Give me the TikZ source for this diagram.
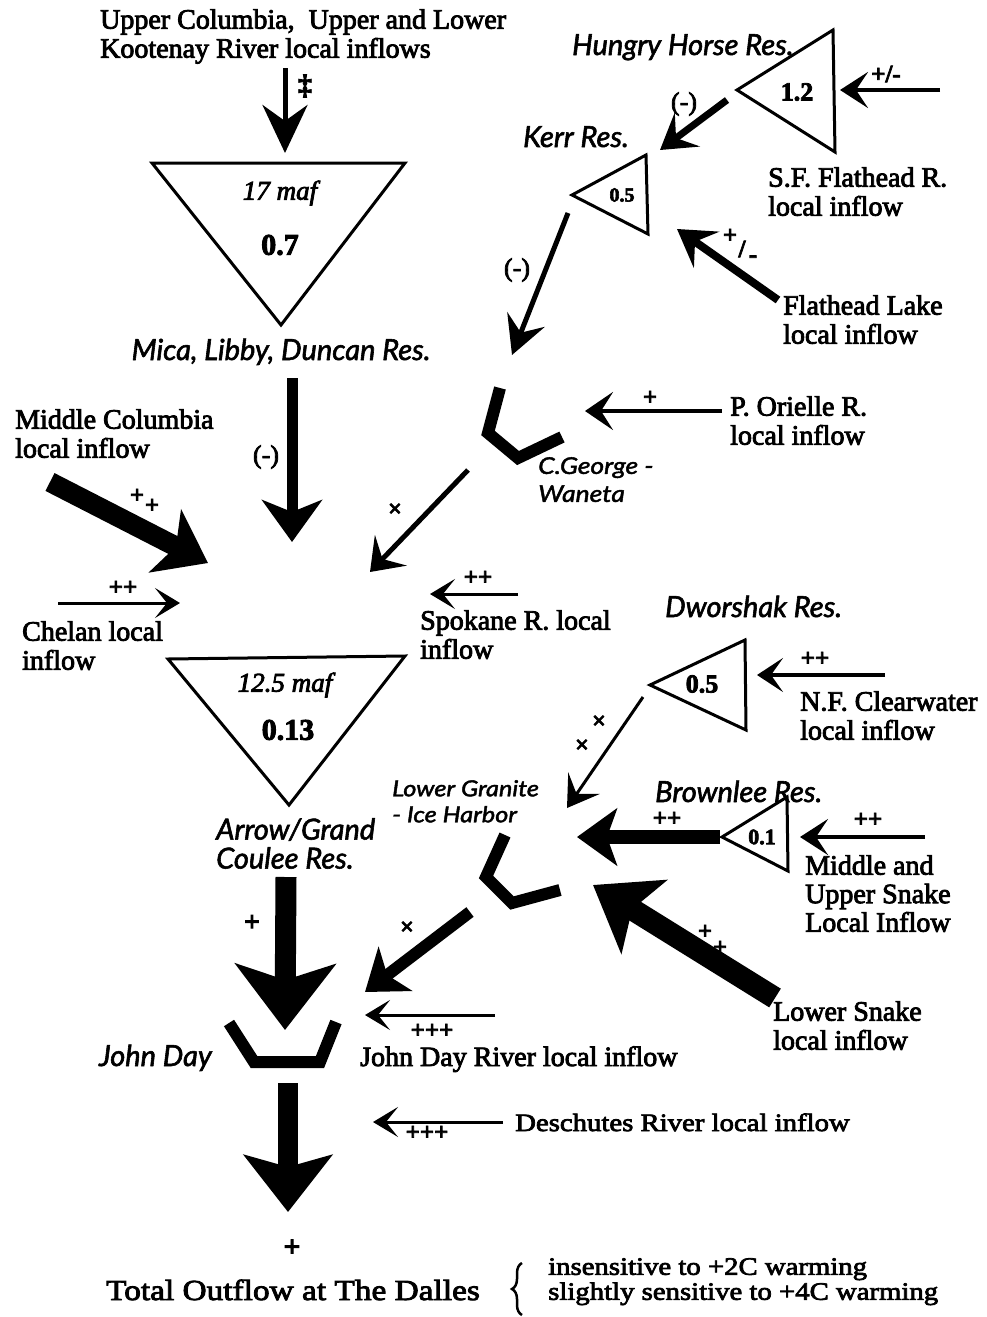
\documentclass[tikz,border=0pt]{standalone}
\usepackage{fontspec}
\setmainfont{Liberation Serif}[FakeBold=3]
\newfontfamily\resfont{Lato}[FakeBold=2]
\newfontfamily\damfont{Lato}[FakeStretch=1.15, FakeBold=2]
\newfontfamily\widefont{Liberation Serif}[FakeStretch=1.15, FakeBold=3]
\usetikzlibrary{arrows.meta,decorations.pathreplacing}

\newcommand\mainsize{\fontsize{28}{29}\selectfont}

\tikzset{
    reservoir/.style={draw, line width=3pt, line join=miter},
    dam/.style={line width=12pt, line join=miter},
    inflow/.style={inner sep=0pt, align=left, anchor=north west, font=\mainsize},
    resname/.style={inner sep=0pt, font=\resfont\itshape\fontsize{29}{29}\selectfont},
    damname/.style={inner sep=0pt, align=left, anchor=north west, font=\damfont\itshape\fontsize{23}{28}\selectfont},
    volume/.style={inner sep=0pt, font=\itshape\fontsize{27}{27}\selectfont},
    ratio/.style={inner sep=0pt, font=\bfseries\fontsize{30}{30}\selectfont},
    sign/.style={inner sep=0pt, font=\bfseries\fontsize{25}{25}\selectfont},
    cross/.style={inner sep=0pt, font=\bfseries\fontsize{24}{24}\selectfont},
    thinflow/.style={line width=3pt, -{Stealth[length=25pt, width=30pt, inset=12pt]}},
    flow/.style={line width=5pt, -{Stealth[length=32pt, width=42pt, inset=14pt]}},
    strongflow/.style={line width=11pt, -{Stealth[length=42pt, width=60pt, inset=12pt]}},
    heavyflow/.style={line width=21pt, -{Stealth[length=66pt, width=100pt, inset=16pt]}},
}

\begin{document}
\begin{tikzpicture}[x=1pt, y=-1pt]
    \useasboundingbox (0,0) rectangle (987,1317);

    % storage reservoirs
    \draw[reservoir] (152,163) -- (405,163) -- (281,325) -- cycle;
    \draw[reservoir] (168,659) -- (405,656) -- (289,805) -- cycle;
    \draw[reservoir] (737,90) -- (833,30) -- (835,152) -- cycle;
    \draw[reservoir] (572,195) -- (646,155) -- (648,234) -- cycle;
    \draw[reservoir] (650,685) -- (745,640) -- (746,730) -- cycle;
    \draw[reservoir] (722,837) -- (787,797) -- (788,871) -- cycle;

    % run-of-river dams
    \draw[dam] (500,388) -- (488,433) -- (518,458) -- (562,437);
    \draw[dam] (505,835) -- (486,877) -- (512,903) -- (560,890);
    \draw[dam] (229,1023) -- (254,1062) -- (320,1062) -- (336,1022);

    \node[volume] (mica vol) at (280,193) {17 maf};
    \node[ratio] (mica ratio) at (280,245) {0.7};
    \node[volume] (coulee vol) at (285,685) {12.5 maf};
    \node[ratio] (coulee ratio) at (288,730) {0.13};
    \node[ratio, font=\bfseries\fontsize{26}{26}\selectfont] (hhorse ratio) at (797,92) {1.2};
    \node[ratio, font=\bfseries\fontsize{20}{20}\selectfont] (kerr ratio) at (622,195) {0.5};
    \node[ratio, font=\bfseries\fontsize{26}{26}\selectfont] (dworshak ratio) at (702,684) {0.5};
    \node[ratio, font=\bfseries\fontsize{22}{22}\selectfont] (brownlee ratio) at (762,837) {0.1};

    % reservoir and dam names
    \node[resname, anchor=base] (mica) at (281,360) {Mica, Libby, Duncan Res.};
    \node[resname, anchor=base west] (hhorse) at (572,55) {Hungry Horse Res.};
    \node[resname, anchor=base west] (kerr) at (523,147) {Kerr Res.};
    \node[resname, anchor=base west] (dworshak) at (665,617) {Dworshak Res.};
    \node[resname, anchor=base west] (brownlee) at (655,802) {Brownlee Res.};
    \node[resname, align=left, anchor=north west] (coulee) at (216,818) {Arrow/Grand\\Coulee Res.};
    \node[resname, anchor=base east] (johnday) at (212,1066) {John Day};
    \node[damname] (cgeorge) at (538,457) {C.George -\\Waneta};
    \node[damname, font=\damfont\itshape\fontsize{22}{26}\selectfont] (lgranite) at (392,780) {Lower Granite\\- Ice Harbor};

    % local inflows
    \node[inflow] (kootenay) at (100,9) {Upper Columbia,\ \ Upper and Lower\\Kootenay River local inflows};
    \node[inflow] (sfflathead) at (768,167) {S.F. Flathead R.\\local inflow};
    \node[inflow] (flathead) at (783,295) {Flathead Lake\\local inflow};
    \node[inflow] (midcol) at (15,409) {Middle Columbia\\local inflow};
    \node[inflow] (porielle) at (730,396) {P. Orielle R.\\local inflow};
    \node[inflow] (chelan) at (22,621) {Chelan local\\inflow};
    \node[inflow] (spokane) at (420,610) {Spokane R. local\\inflow};
    \node[inflow] (nfclear) at (800,691) {N.F. Clearwater\\local inflow};
    \node[inflow, font=\fontsize{28}{28.5}\selectfont] (snake) at (805,855) {Middle and\\Upper Snake\\Local Inflow};
    \node[inflow] (lsnake) at (773,1001) {Lower Snake\\local inflow};
    \node[inflow, anchor=base west] (jdriver) at (360,1066) {John Day River local inflow};
    \node[inflow, anchor=base west, font=\widefont\fontsize{25}{25}\selectfont] (deschutes) at (515,1131) {Deschutes River local inflow};

    % outflow
    \node[inner sep=0pt, font=\widefont\fontsize{29}{29}\selectfont, anchor=base] (dalles) at (293,1300) {Total Outflow at The Dalles};
    \node[inflow, font=\widefont\fontsize{25}{25}\selectfont] (warming) at (548,1258) {insensitive to +2C warming\\slightly sensitive to +4C warming};
    \draw[decorate, decoration={brace, amplitude=10pt}, line width=2.5pt] (522,1315) -- (522,1263);

    % connector ends
    \coordinate (koot tail) at (285,68);
    \coordinate (mica in) at (285,153);
    \coordinate (mica out) at (292,378);
    \coordinate (coulee in) at (292,542);
    \coordinate (midcol tail) at (50,482);
    \coordinate (coulee w) at (208,563);
    \coordinate (chelan tail) at (58,603);
    \coordinate (coulee sw) at (180,603);
    \coordinate (cgeorge out) at (468,470);
    \coordinate (coulee ne) at (370,572);
    \coordinate (spokane tail) at (518,594);
    \coordinate (coulee e) at (430,594);
    \coordinate (sf tail) at (940,90);
    \coordinate (hhorse in) at (840,90);
    \coordinate (hhorse out) at (727,100);
    \coordinate (kerr in) at (660,150);
    \coordinate (flathead tail) at (778,300);
    \coordinate (kerr se) at (677,229);
    \coordinate (kerr out) at (568,213);
    \coordinate (cgeorge in) at (512,355);
    \coordinate (porielle tail) at (722,411);
    \coordinate (cgeorge e) at (585,411);
    \coordinate (nf tail) at (885,675);
    \coordinate (dworshak in) at (757,675);
    \coordinate (dworshak out) at (643,697);
    \coordinate (lgranite in) at (567,808);
    \coordinate (brownlee out) at (720,837);
    \coordinate (lgranite e) at (577,837);
    \coordinate (snake tail) at (925,837);
    \coordinate (brownlee in) at (800,837);
    \coordinate (lsnake tail) at (775,998);
    \coordinate (lgranite se) at (593,885);
    \coordinate (lgranite out) at (470,912);
    \coordinate (johnday ne) at (365,992);
    \coordinate (coulee out) at (286,877);
    \coordinate (johnday in) at (285,1030);
    \coordinate (jdriver tail) at (495,1015);
    \coordinate (johnday e) at (365,1015);
    \coordinate (johnday out) at (288,1083);
    \coordinate (dalles in) at (288,1212);
    \coordinate (deschutes tail) at (503,1122);
    \coordinate (dalles e) at (373,1122);

    % flows
    \draw[flow, -{Stealth[length=48pt, width=45pt, inset=16pt]}] (koot tail) -- (mica in);
    \draw[strongflow] (mica out) -- (coulee in);
    \draw[line width=20pt, -{Stealth[length=48pt, width=70pt, inset=12pt]}] (midcol tail) -- (coulee w);
    \draw[thinflow] (chelan tail) -- (coulee sw);
    \draw[flow, -{Stealth[length=30pt, width=44pt, inset=12pt]}] (cgeorge out) -- (coulee ne);
    \draw[thinflow] (spokane tail) -- (coulee e);
    \draw[line width=4pt, -{Stealth[length=28pt, width=36pt, inset=12pt]}] (sf tail) -- (hhorse in);
    \draw[line width=7pt, -{Stealth[length=34pt, width=42pt, inset=14pt]}] (hhorse out) -- (kerr in);
    \draw[line width=8pt, -{Stealth[length=36pt, width=44pt, inset=14pt]}] (flathead tail) -- (kerr se);
    \draw[flow, -{Stealth[length=38pt, width=40pt, inset=14pt]}] (kerr out) -- (cgeorge in);
    \draw[line width=4pt, -{Stealth[length=28pt, width=38pt, inset=12pt]}] (porielle tail) -- (cgeorge e);
    \draw[line width=4pt, -{Stealth[length=26pt, width=34pt, inset=12pt]}] (nf tail) -- (dworshak in);
    \draw[thinflow, -{Stealth[length=30pt, width=38pt, inset=13pt]}] (dworshak out) -- (lgranite in);
    \draw[line width=14pt, -{Stealth[length=40pt, width=57pt, inset=10pt]}] (brownlee out) -- (lgranite e);
    \draw[line width=4pt, -{Stealth[length=28pt, width=36pt, inset=12pt]}] (snake tail) -- (brownlee in);
    \draw[line width=22pt, -{Stealth[length=60pt, width=86pt, inset=14pt]}] (lsnake tail) -- (lgranite se);
    \draw[line width=12pt, -{Stealth[length=38pt, width=55pt, inset=10pt]}] (lgranite out) -- (johnday ne);
    \draw[heavyflow] (coulee out) -- (johnday in);
    \draw[thinflow] (jdriver tail) -- (johnday e);
    \draw[line width=20pt, -{Stealth[length=57pt, width=88pt, inset=12pt]}] (johnday out) -- (dalles in);
    \draw[thinflow] (deschutes tail) -- (dalles e);

    % sensitivity signs
    \node[sign, font=\bfseries\fontsize{28}{28}\selectfont] (s koot) at (305,86) {‡};
    \node[sign, font=\fontsize{26}{26}\selectfont] (s mica) at (266,457) {(-)};
    \node[sign] (s midcol a) at (137,496) {+};
    \node[sign] (s midcol b) at (152,506) {+};
    \node[sign] (s chelan) at (123,588) {++};
    \node[cross] (s cgeorge) at (395,510) {×};
    \node[sign] (s spokane) at (478,578) {++};
    \node[sign] (s sf) at (886,74) {+/-};
    \node[sign, font=\fontsize{26}{26}\selectfont] (s hhorse) at (684,104) {(-)};
    \node[sign] (s flathead a) at (730,236) {+};
    \node[sign] (s flathead b) at (742,249) {/};
    \node[sign] (s flathead c) at (753,259) {-};
    \node[sign, font=\fontsize{26}{26}\selectfont] (s kerr) at (517,270) {(-)};
    \node[sign] (s porielle) at (650,398) {+};
    \node[sign] (s nf) at (815,659) {++};
    \node[cross] (s dworshak a) at (599,722) {×};
    \node[cross] (s dworshak b) at (582,746) {×};
    \node[sign] (s brownlee) at (667,819) {++};
    \node[sign] (s snake) at (868,820) {++};
    \node[sign] (s lsnake a) at (705,932) {+};
    \node[sign] (s lsnake b) at (720,948) {+};
    \node[cross] (s lgranite) at (407,928) {×};
    \node[sign, font=\bfseries\fontsize{28}{28}\selectfont] (s coulee) at (252,923) {+};
    \node[sign] (s jdriver) at (432,1031) {+++};
    \node[sign] (s deschutes) at (427,1133) {+++};
    \node[sign, font=\bfseries\fontsize{30}{30}\selectfont] (s dalles) at (292,1248) {+};
\end{tikzpicture}
\end{document}
